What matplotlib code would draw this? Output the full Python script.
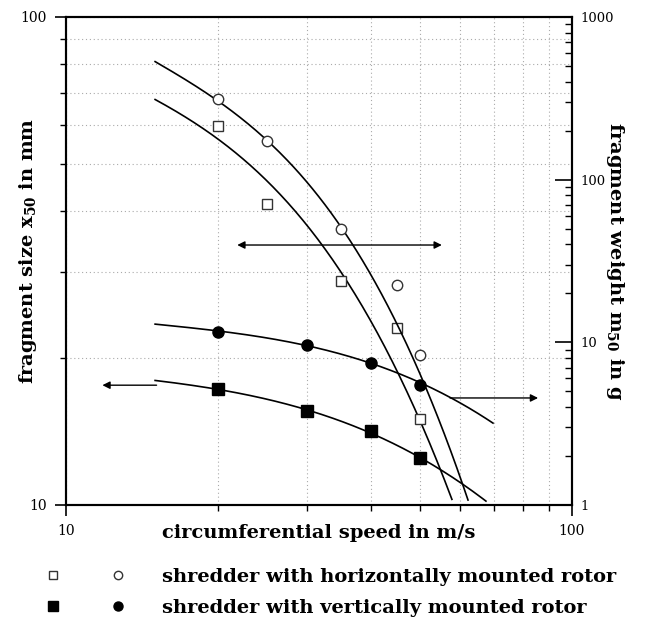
import numpy as np
import matplotlib
matplotlib.use("Agg")
import matplotlib.pyplot as plt
from matplotlib.ticker import FixedLocator, NullFormatter, FixedFormatter
from matplotlib.lines import Line2D
from matplotlib.legend_handler import HandlerTuple

plt.rcParams['font.family'] = ['DejaVu Serif']
plt.rcParams['mathtext.fontset'] = 'dejavuserif'

# measured points
speed_open = [20, 25, 35, 45, 50]
size_open = [59.8, 41.4, 28.8, 23.0, 15.0]        # open squares, left axis (mm)
weight_open = [313, 172, 49.7, 22.5, 8.4]         # open circles, right axis (g)

speed_filled = [20, 30, 40, 50]
size_filled = [17.3, 15.6, 14.2, 12.5]            # filled squares, left axis (mm)
weight_filled = [11.6, 9.6, 7.5, 5.5]             # filled circles, right axis (g)

# points
curve_a_speed = [15, 19.9, 24.9, 26.5, 34.8, 37.4, 44.7, 62.3]
curve_a_weight = [529, 313, 173, 146, 50.4, 38.5, 13.7, 1.07]
curve_b_speed = [15, 20.0, 26.9, 31.8, 35.3, 40.3, 41.7, 57.9]
curve_b_size = [67.3, 57.3, 42.2, 34.1, 28.9, 23.9, 22.5, 10.2]
curve_c_speed = [15, 19.9, 23.1, 30, 39.7, 45.7, 49.6, 69.8]
curve_c_weight = [13.0, 11.6, 11.1, 9.6, 7.5, 6.5, 5.6, 3.2]
curve_d_speed = [15, 19.9, 23.1, 30, 39.7, 45.7, 49.6, 67.6]
curve_d_size = [18.0, 17.3, 16.7, 15.65, 14.2, 13.15, 12.5, 10.2]

x_ticks = [10, 100]
left_ticks = [10, 100]
right_ticks = [1, 10, 100, 1000]


def smooth(xs, ys, deg=3):
    # smooth the read curve points in log-log space
    lx, ly = np.log10(xs), np.log10(ys)
    p = np.polyfit(lx, ly, deg)
    xx = np.linspace(lx[0], lx[-1], 200)
    return 10 ** xx, 10 ** np.polyval(p, xx)


fig = plt.figure(figsize=(6.47, 6.26), dpi=100)
ax = fig.add_axes([66 / 647, 1 - 505 / 626, 506 / 647, 488 / 626])
ax2 = ax.twinx()

for a in (ax, ax2):
    a.set_xscale('log')
    a.set_yscale('log')
ax.set_xlim(10, 100)
ax.set_ylim(10, 100)
ax2.set_ylim(1, 1000)

ax.grid(True, which='both', linestyle=(0, (1, 2.5)), color='#aaaaaa', linewidth=0.8)

lw = 1.2
xs, ys = smooth(curve_a_speed, curve_a_weight)
ax2.plot(xs, ys, color='black', lw=lw)
xs, ys = smooth(curve_b_speed, curve_b_size)
ax.plot(xs, ys, color='black', lw=lw)
xs, ys = smooth(curve_c_speed, curve_c_weight)
ax2.plot(xs, ys, color='black', lw=lw)
xs, ys = smooth(curve_d_speed, curve_d_size)
ax.plot(xs, ys, color='black', lw=lw)

ax.plot(speed_open, size_open, 's', ms=7, mfc='white', mec='#333333', mew=1.0)
ax2.plot(speed_open, weight_open, 'o', ms=7.5, mfc='white', mec='#333333', mew=1.0)
ax.plot(speed_filled, size_filled, 's', ms=8, color='black')
ax2.plot(speed_filled, weight_filled, 'o', ms=8, color='black')

arrow = dict(arrowstyle='-|>', color='black', lw=1.0, mutation_scale=11, shrinkA=0, shrinkB=0)
ax.annotate('', xy=(21.8, 34.1), xytext=(55.3, 34.1), arrowprops=dict(arrow, arrowstyle='<|-|>'))
ax.annotate('', xy=(11.8, 17.6), xytext=(15.1, 17.6), arrowprops=arrow)
ax2.annotate('', xy=(85.7, 4.55), xytext=(57.4, 4.55), arrowprops=arrow)

# ticks
ax.xaxis.set_major_locator(FixedLocator(x_ticks))
ax.xaxis.set_major_formatter(FixedFormatter([str(t) for t in x_ticks]))
ax.xaxis.set_minor_formatter(NullFormatter())
ax.yaxis.set_major_locator(FixedLocator(left_ticks))
ax.yaxis.set_major_formatter(FixedFormatter([str(t) for t in left_ticks]))
ax.yaxis.set_minor_formatter(NullFormatter())
ax2.yaxis.set_major_locator(FixedLocator(right_ticks))
ax2.yaxis.set_major_formatter(FixedFormatter([str(t) for t in right_ticks]))
ax2.yaxis.set_minor_formatter(NullFormatter())

ax.tick_params(which='both', direction='out', top=False, right=False, labelsize=10, pad=6)
ax.tick_params(which='major', length=8, width=1.2)
ax.tick_params(which='minor', length=4, width=1.0)
ax2.tick_params(which='both', direction='in', labelsize=9.5, pad=6)
ax2.tick_params(which='major', length=12, width=1.2)
ax2.tick_params(which='minor', length=5, width=1.0)

for a in (ax, ax2):
    for s in a.spines.values():
        s.set_linewidth(1.5)

lab = dict(fontsize=14, fontweight='bold')
ax.set_xlabel('circumferential speed in m/s', **lab)
ax.xaxis.set_label_coords(0.5, -0.057)
ax.xaxis.label.set_va('center')
ax.set_ylabel(r'fragment size $\mathregular{x_{50}}$ in mm', **lab)
ax.yaxis.set_label_coords(-0.075, 0.52)
ax.yaxis.label.set_va('center')
ax2.set_ylabel(r'fragment weight $\mathregular{m_{50}}$ in g', rotation=270, **lab)
ax2.yaxis.set_label_coords(1.085, 0.5)
ax2.yaxis.label.set_va('center')

h_open = (Line2D([], [], ls='', marker='s', ms=6, mfc='white', mec='#333333'),
          Line2D([], [], ls='', marker='o', ms=6, mfc='white', mec='#333333'))
h_fill = (Line2D([], [], ls='', marker='s', ms=6.5, color='black'),
          Line2D([], [], ls='', marker='o', ms=6.5, color='black'))
fig.legend([h_open, h_fill],
           ['shredder with horizontally mounted rotor', 'shredder with vertically mounted rotor'],
           handler_map={tuple: HandlerTuple(ndivide=None, pad=0)},
           loc='upper left', bbox_to_anchor=(20 / 647, 1 - 568 / 626),
           frameon=False, prop=dict(size=14, weight='bold'), handlelength=6.7,
           handletextpad=0.6, borderpad=0, borderaxespad=0, labelspacing=0.68, numpoints=1)

fig.savefig('out.png', dpi=100)
